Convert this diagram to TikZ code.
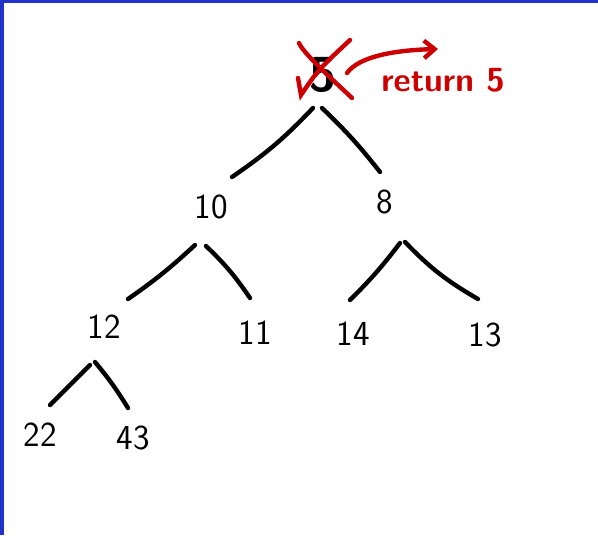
\documentclass[tikz,border=0pt]{standalone}
\usetikzlibrary{calc,arrows.meta}
\definecolor{penred}{RGB}{204,0,0}
\definecolor{frameblue}{RGB}{34,51,204}
\begin{document}
\begin{tikzpicture}[x=0.02cm, y=-0.02cm,
    num/.style={inner sep=0pt, font=\sffamily\fontsize{20}{24}\selectfont},
    edge/.style={line width=2.5pt, line cap=round},
    pen/.style={penred, line width=2.5pt, line cap=round}]
    % frame
    \useasboundingbox (0,0) rectangle (598,535);
    \fill[white] (0,0) rectangle (598,535);
    \fill[frameblue] (0,0) rectangle (598,3);
    \fill[frameblue] (0,0) rectangle (4,535);

    % heap nodes
    \node[num, font=\sffamily\bfseries\fontsize{28}{32}\selectfont] (n5) at (323,75) {5};
    \node[num] (n10) at (211,207) {10};
    \node[num] (n8) at (385,202) {8};
    \node[num] (n12) at (104,327) {12};
    \node[num] (n11) at (255,333) {11};
    \node[num] (n14) at (353,334) {14};
    \node[num] (n13) at (485,335) {13};
    \node[num] (n22) at (40,435) {22};
    \node[num] (n43) at (133,438) {43};

    % tree edges
    \draw[edge] ($(n5)+(-10,33)$) to[bend left=6] ($(n10)+(21,-30)$);
    \draw[edge] ($(n5)+(-1,33)$) to[bend left=4] ($(n8)+(-5,-30)$);
    \draw[edge] ($(n10)+(-16,38)$) to[bend left=4] ($(n12)+(24,-28)$);
    \draw[edge] ($(n10)+(-5,39)$) to[bend left=6] ($(n11)+(-5,-35)$);
    \draw[edge] ($(n8)+(15,41)$) to[bend left=4] ($(n14)+(-3,-34)$);
    \draw[edge] ($(n8)+(20,40)$) to[bend right=8] ($(n13)+(-7,-36)$);
    \draw[edge] ($(n12)+(-14,38)$) -- ($(n22)+(10,-30)$);
    \draw[edge] ($(n12)+(-9,35)$) to[bend left=4] ($(n43)+(-5,-30)$);

    % crossed out root
    \draw[pen] ($(n5)+(-24,-32)$) .. controls ($(n5)+(-20,-22)$) and ($(n5)+(10,5)$) .. ($(n5)+(29,23)$);
    \draw[pen] ($(n5)+(-25,3)$) -- ($(n5)+(-22,20)$) .. controls ($(n5)+(-5,-5)$) .. ($(n5)+(27,-35)$);

    % return arrow
    \node[penred, inner sep=0pt, font=\sffamily\bfseries\fontsize{19}{21}\selectfont] (ret) at (443,80) {return 5};
    \coordinate (out) at (438,49);
    \draw[pen, -{Straight Barb[length=6pt, width=10pt]}] ($(n5)+(24,-2)$) .. controls (360,55) and (400,50) .. (out);
\end{tikzpicture}
\end{document}
